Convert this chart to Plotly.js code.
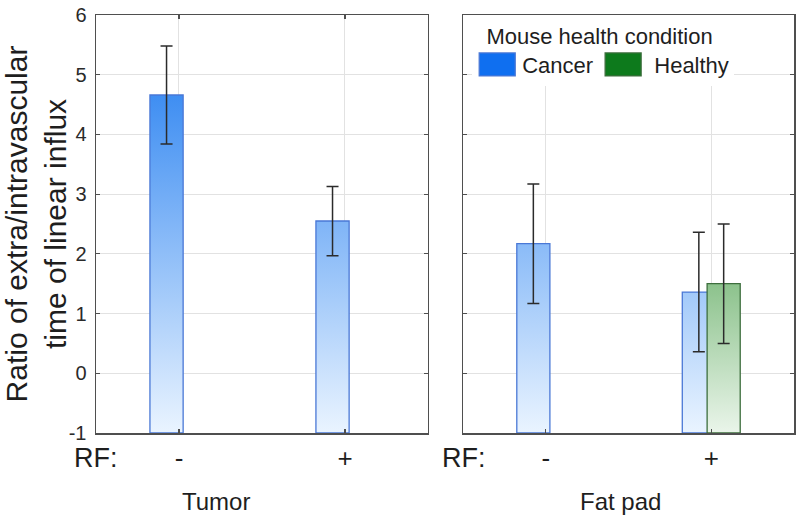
<!DOCTYPE html>
<html>
<head>
<meta charset="utf-8">
<script src="https://cdn.plot.ly/plotly-3.0.1.min.js"></script>
<style>html,body{margin:0;padding:0;background:#fff;}#chart{width:800px;height:519px;}</style>
</head>
<body>
<div id="chart"></div>
<script>
// ---- data ----
const rfLevels = ['-', '+'];
const groupNames = ['Tumor', 'Fat pad'];
const seriesNames = ['Cancer', '\u00a0Healthy'];
const tumorCancer = [4.66, 2.55];
const tumorCancerErr = [0.82, 0.58];
const fatCancer = [2.17, 1.36];
const fatCancerErr = [1.0, 1.0];
const healthyX = ['+'];
const fatHealthy = [1.5];
const fatHealthyErr = [1.0];
const yTicks = [-1, 0, 1, 2, 3, 4, 5, 6];
const yTickText = yTicks.map(String);
const BAR_BASE = -1;

const FONT = 'Liberation Sans, Arial, sans-serif';
const blueSolid = '#0f6ff0';
const greenSolid = '#0d7a1c';
const blueLine = '#4a78d6';
const greenLine = '#3d6e3d';
const errStyle = (arr) => ({type: 'data', array: arr, visible: true, color: '#2b2b2b', thickness: 1.5, width: 6});

const traces = [
  {type: 'bar', name: seriesNames[0], legendgroup: 'c', showlegend: false,
   x: rfLevels, y: tumorCancer.map(v => v - BAR_BASE), base: BAR_BASE,
   width: 0.2, offset: -0.175, xaxis: 'x', yaxis: 'y',
   marker: {color: blueSolid, line: {color: blueLine, width: 1.3}},
   error_y: errStyle(tumorCancerErr)},
  {type: 'bar', name: seriesNames[0], legendgroup: 'c', showlegend: true,
   x: rfLevels, y: fatCancer.map(v => v - BAR_BASE), base: BAR_BASE,
   width: 0.2, offset: -0.175, xaxis: 'x2', yaxis: 'y2',
   marker: {color: blueSolid, line: {color: blueLine, width: 1.3}},
   error_y: errStyle(fatCancerErr)},
  {type: 'bar', name: seriesNames[1], legendgroup: 'h', showlegend: true,
   x: healthyX, y: fatHealthy.map(v => v - BAR_BASE), base: BAR_BASE,
   width: 0.2, offset: -0.025, xaxis: 'x2', yaxis: 'y2',
   marker: {color: greenSolid, line: {color: greenLine, width: 1.3}},
   error_y: errStyle(fatHealthyErr)}
];

const axCommon = {
  showline: true, linecolor: '#4f4f4f', linewidth: 1.5, mirror: 'allticks',
  ticks: 'inside', ticklen: 4, tickcolor: '#4f4f4f', tickwidth: 1.2,
  showgrid: true, gridcolor: '#e2e2e2', gridwidth: 1, zeroline: false,
  fixedrange: true
};
const xCommon = Object.assign({}, axCommon, {
  type: 'category', categoryorder: 'array', categoryarray: rfLevels,
  range: [-0.5, 1.5], tickfont: {family: FONT, size: 26, color: '#1e1e1e'},
  ticklabelstandoff: 1
});
const yCommon = Object.assign({}, axCommon, {
  range: [-1, 6], tickvals: yTicks, ticktext: yTickText,
  tickfont: {family: FONT, size: 20, color: '#2a2a2a'},
  ticklabelstandoff: 4
});

const layout = {
  width: 800, height: 519,
  margin: {l: 96, r: 6, t: 15, b: 86, pad: 0},
  paper_bgcolor: '#ffffff', plot_bgcolor: '#ffffff',
  barmode: 'overlay',
  showlegend: true,
  font: {family: FONT, color: '#1e1e1e'},
  xaxis: Object.assign({}, xCommon, {domain: [0, 0.4756], anchor: 'y'}),
  xaxis2: Object.assign({}, xCommon, {domain: [0.5258, 1], anchor: 'y2'}),
  yaxis: Object.assign({}, yCommon, {anchor: 'x',
    title: {text: 'Ratio of extra/intravascular<br>time of linear influx', font: {family: FONT, size: 30, color: '#1e1e1e'}, standoff: 22}}),
  yaxis2: Object.assign({}, yCommon, {anchor: 'x2', showticklabels: false}),
  legend: {
    orientation: 'h', x: 0.539, y: 1, xanchor: 'left', yanchor: 'top',
    bgcolor: '#ffffff', borderwidth: 0,
    font: {family: FONT, size: 22, color: '#1e1e1e'},
    title: {text: '\u00a0\u00a0Mouse health condition', side: 'top', font: {family: FONT, size: 22, color: '#1e1e1e'}},
    itemwidth: 40, traceorder: 'normal'
  },
  annotations: [
    {text: 'RF:', xref: 'paper', yref: 'paper', x: 0.0, y: -0.06, xanchor: 'center', yanchor: 'middle', showarrow: false, font: {family: FONT, size: 27, color: '#1e1e1e'}},
    {text: 'RF:', xref: 'paper', yref: 'paper', x: 0.527, y: -0.06, xanchor: 'center', yanchor: 'middle', showarrow: false, font: {family: FONT, size: 27, color: '#1e1e1e'}},
    {text: groupNames[0], xref: 'paper', yref: 'paper', x: 0.172, y: -0.165, xanchor: 'center', yanchor: 'middle', showarrow: false, font: {family: FONT, size: 24, color: '#1e1e1e'}},
    {text: groupNames[1], xref: 'paper', yref: 'paper', x: 0.752, y: -0.165, xanchor: 'center', yanchor: 'middle', showarrow: false, font: {family: FONT, size: 24, color: '#1e1e1e'}}
  ]
};

const gd = document.getElementById('chart');
Plotly.newPlot(gd, traces, layout, {displayModeBar: false, staticPlot: true}).then(function () {
  const NS = 'http://www.w3.org/2000/svg';
  const defs = gd.querySelector('svg.main-svg defs');
  const h = gd._fullLayout._size.h;
  function grad(id, stops, userSpace) {
    const g = document.createElementNS(NS, 'linearGradient');
    g.setAttribute('id', id);
    g.setAttribute('x1', 0); g.setAttribute('x2', 0);
    if (userSpace) {
      g.setAttribute('gradientUnits', 'userSpaceOnUse');
      g.setAttribute('y1', 0); g.setAttribute('y2', h);
    } else {
      g.setAttribute('y1', 0); g.setAttribute('y2', 1);
    }
    stops.forEach(function (s) {
      const st = document.createElementNS(NS, 'stop');
      st.setAttribute('offset', s[0]);
      st.setAttribute('stop-color', s[1]);
      g.appendChild(st);
    });
    defs.appendChild(g);
  }
  grad('gradBlue', [[0, '#1676ef'], [1, '#eaf4ff']], true);
  grad('gradGreen', [[0, '#8cc28c'], [1, '#eaf5ea']], false);
  const traceGroups = gd.querySelectorAll('.barlayer .trace');
  traceGroups.forEach(function (tg, i) {
    const id = (i === 2) ? 'gradGreen' : 'gradBlue';
    tg.querySelectorAll('.point path').forEach(function (p) { p.style.fill = 'url(#' + id + ')'; p.style.fillOpacity = 1; });
  });
  gd.querySelectorAll('.legend .legendpoints path').forEach(function (p) {
    p.setAttribute('d', 'M18,11.5H-18V-11.5H18Z');
  });
});
</script>
</body>
</html>
